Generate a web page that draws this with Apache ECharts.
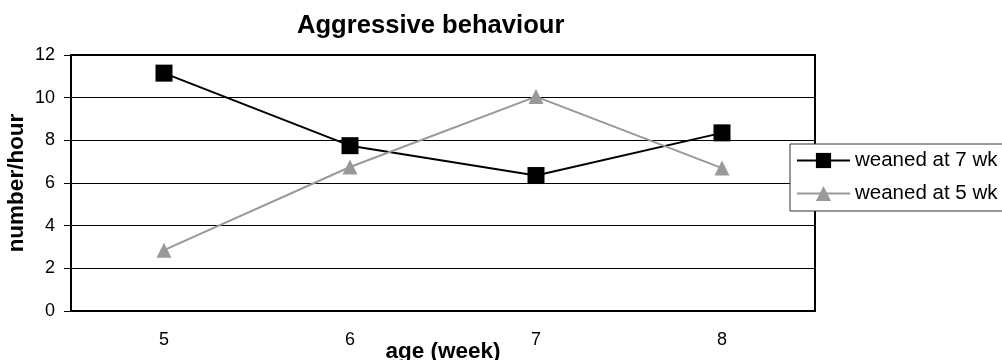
<!DOCTYPE html>
<html>
<head>
<meta charset="utf-8">
<script src="https://cdn.jsdelivr.net/npm/echarts@6/dist/echarts.min.js"></script>
<style>html,body{margin:0;padding:0;background:#fff}#c{width:1002px;height:360px}</style>
</head>
<body>
<div id="c"></div>
<script>
const titleText = 'Aggressive behaviour';
const categories = ['5', '6', '7', '8'];
const weaned7 = [11.15, 7.75, 6.35, 8.35];
const weaned5 = [2.85, 6.75, 10.05, 6.7];
const seriesNames = ['weaned at 7 wk', 'weaned at 5 wk'];
const xName = 'age (week)';
const yName = 'number/hour';
const yMin = 0, yMax = 12, yStep = 2;

const FF = "'Liberation Sans', Arial, sans-serif";
const chart = echarts.init(document.getElementById('c'), null, {renderer: 'canvas'});
chart.setOption({
  animation: false,
  backgroundColor: '#fff',
  textStyle: {fontFamily: FF},
  title: {
    text: titleText,
    left: 297, top: 13, padding: 0,
    textStyle: {fontFamily: FF, fontSize: 25.6, fontWeight: 'bold', color: '#000'}
  },
  grid: {
    left: 71, right: 187, top: 55, bottom: 49,
    show: true, borderColor: '#000', borderWidth: 2,
    containLabel: false, outerBoundsMode: 'none'
  },
  legend: {
    orient: 'vertical', left: 790, top: 144,
    padding: [6, 12, 7, 6], itemGap: 12,
    itemWidth: 53, itemHeight: 19,
    backgroundColor: '#fff', borderColor: '#333', borderWidth: 1,
    textStyle: {fontFamily: FF, fontSize: 20.5, color: '#000'},
    data: seriesNames
  },
  xAxis: {
    type: 'category', data: categories, boundaryGap: true,
    name: xName, nameLocation: 'middle', nameGap: 29, nameMoveOverlap: false,
    nameTextStyle: {fontFamily: FF, fontSize: 22.5, fontWeight: 'bold', color: '#000'},
    axisLine: {show: true, lineStyle: {color: '#000', width: 2}},
    axisTick: {show: false},
    axisLabel: {fontFamily: FF, fontSize: 18, color: '#000', margin: 20},
    splitLine: {show: false}
  },
  yAxis: {
    type: 'value', min: yMin, max: yMax, interval: yStep,
    name: yName, nameLocation: 'middle', nameGap: 43, nameMoveOverlap: false,
    nameTextStyle: {fontFamily: FF, fontSize: 22.5, fontWeight: 'bold', color: '#000'},
    axisLine: {show: true, lineStyle: {color: '#000', width: 2}},
    axisTick: {show: true, inside: false, length: 7, lineStyle: {color: '#000', width: 1}},
    axisLabel: {fontFamily: FF, fontSize: 18, color: '#000', margin: 16},
    splitLine: {show: true, lineStyle: {color: '#000', width: 1}}
  },
  series: [
    {
      name: seriesNames[0], type: 'line', data: weaned7,
      symbol: 'rect', symbolSize: 17, showAllSymbol: true,
      lineStyle: {color: '#000', width: 2},
      itemStyle: {color: '#000', borderWidth: 0}
    },
    {
      name: seriesNames[1], type: 'line', data: weaned5,
      symbol: 'triangle', symbolSize: 15, showAllSymbol: true,
      lineStyle: {color: '#999', width: 2},
      itemStyle: {color: '#999', borderWidth: 0}
    }
  ]
});
</script>
</body>
</html>
